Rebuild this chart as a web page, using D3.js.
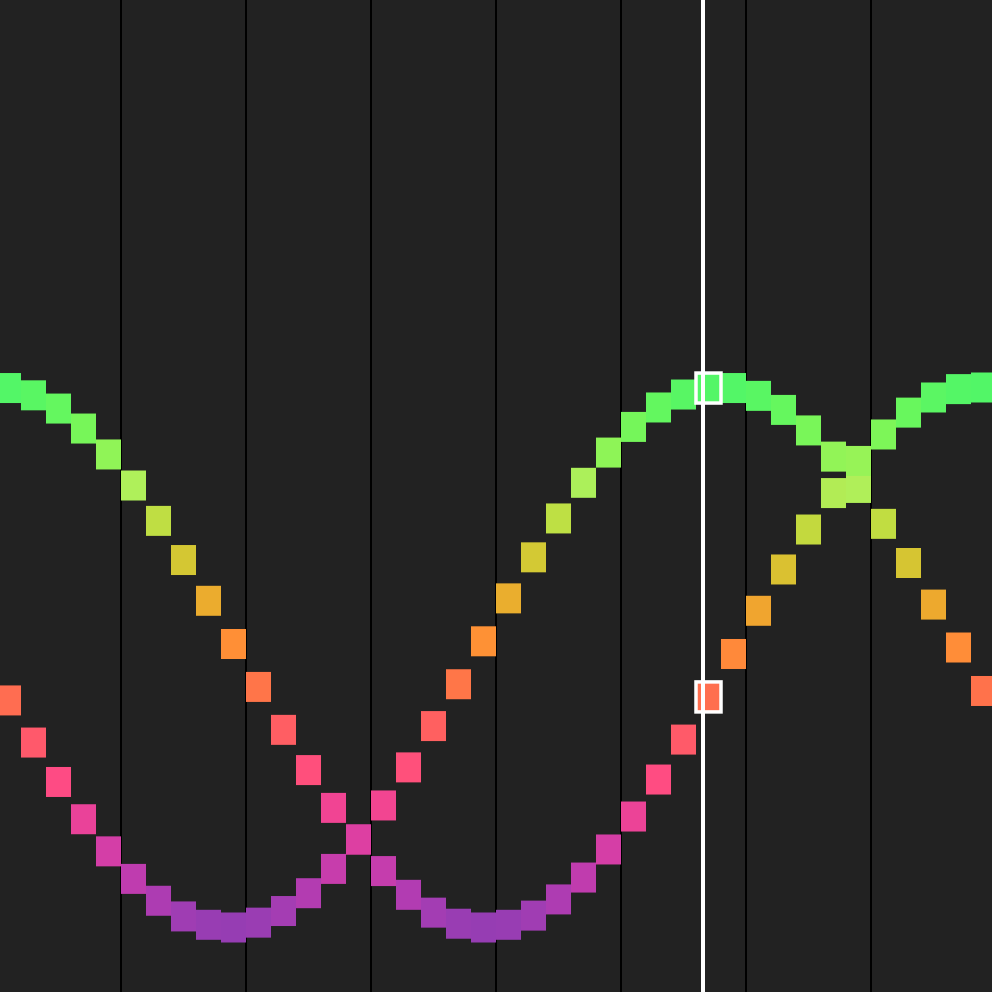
<!DOCTYPE html>
<html>
<head>
<meta charset="utf-8">
<script src="https://cdn.jsdelivr.net/npm/d3@7"></script>
<style>
  html, body { margin: 0; padding: 0; background: #222222; overflow: hidden; }
  svg { display: block; }
</style>
</head>
<body>
<svg id="chart" width="992" height="992"></svg>
<script>
// ---- data ----
const steps = d3.range(40);               // sample index along x
const seriesA = [ // starts low (orange), min near step 9, max near step 28
  -0.159, -0.315, -0.461, -0.599, -0.718, -0.820, -0.901, -0.959, -0.990, -1.000,
  -0.982, -0.939, -0.873, -0.783, -0.674, -0.548, -0.407, -0.254, -0.099, 0.060,
   0.219,  0.371,  0.515,  0.647,  0.759,  0.854,  0.926,  0.974,  0.998,  0.998,
   0.969,  0.917,  0.841,  0.744,  0.628,  0.495,  0.350,  0.196,  0.037, -0.124
];
const seriesB = [ // starts high (green), min near step 19
   0.998,  0.971,  0.922,  0.848,  0.752,  0.637,  0.506,  0.361,  0.210,  0.050,
  -0.109, -0.268, -0.417, -0.557, -0.674, -0.791, -0.879, -0.945, -0.986, -1.000,
  -0.990, -0.956, -0.896, -0.815, -0.711, -0.589, -0.452, -0.304, -0.146,  0.013,
   0.173,  0.326,  0.474,  0.609,  0.728,  0.826,  0.907,  0.963,  0.994,  1.000
];
const valueDomain = [-1, 1];
const gridEvery = 5;          // a vertical rule every 5 steps
const highlightStep = 28;     // step under the cursor

// ---- layout ----
const W = 992, H = 992;
const cellH = 30;
const cursorX = 703;

const svg = d3.select("#chart");
svg.append("rect").attr("width", W).attr("height", H).attr("fill", "#222222");

const x = d3.scaleBand().domain(steps).range([-4, -4 + 25 * steps.length]).padding(0);
const y = d3.scaleLinear().domain(valueDomain).range([927.5, 387.5]);
const colorT = d3.scaleLinear().domain(valueDomain).range([0.05, 0.6]);
const fill = v => d3.interpolateRainbow(colorT(v));

// vertical grid rules
const gridSteps = d3.range(0, steps.length + 1, gridEvery);
const xEdge = i => x(0) + i * x.step();
svg.append("g")
  .selectAll("line")
  .data(gridSteps)
  .join("line")
  .attr("x1", d => xEdge(d)).attr("x2", d => xEdge(d))
  .attr("y1", 0).attr("y2", H)
  .attr("stroke", "#000")
  .attr("stroke-width", 2);

// squares
const series = [seriesA, seriesB];
series.forEach(vals => {
  svg.append("g")
    .selectAll("rect")
    .data(steps.map(i => ({ i, v: vals[i] })))
    .join("rect")
    .attr("x", d => x(d.i))
    .attr("y", d => y(d.v) - cellH / 2)
    .attr("width", x.bandwidth())
    .attr("height", cellH)
    .attr("fill", d => fill(d.v));
});

// highlighted squares under cursor
svg.append("g")
  .selectAll("rect")
  .data(series.map(vals => vals[highlightStep]))
  .join("rect")
  .attr("x", x(highlightStep))
  .attr("y", v => y(v) - cellH / 2)
  .attr("width", x.bandwidth())
  .attr("height", cellH)
  .attr("fill", v => fill(v))
  .attr("stroke", "#fff")
  .attr("stroke-width", 3.5);

// cursor line
svg.append("line")
  .attr("x1", cursorX).attr("x2", cursorX)
  .attr("y1", 0).attr("y2", H)
  .attr("stroke", "#fff")
  .attr("stroke-width", 4);
</script>
</body>
</html>
